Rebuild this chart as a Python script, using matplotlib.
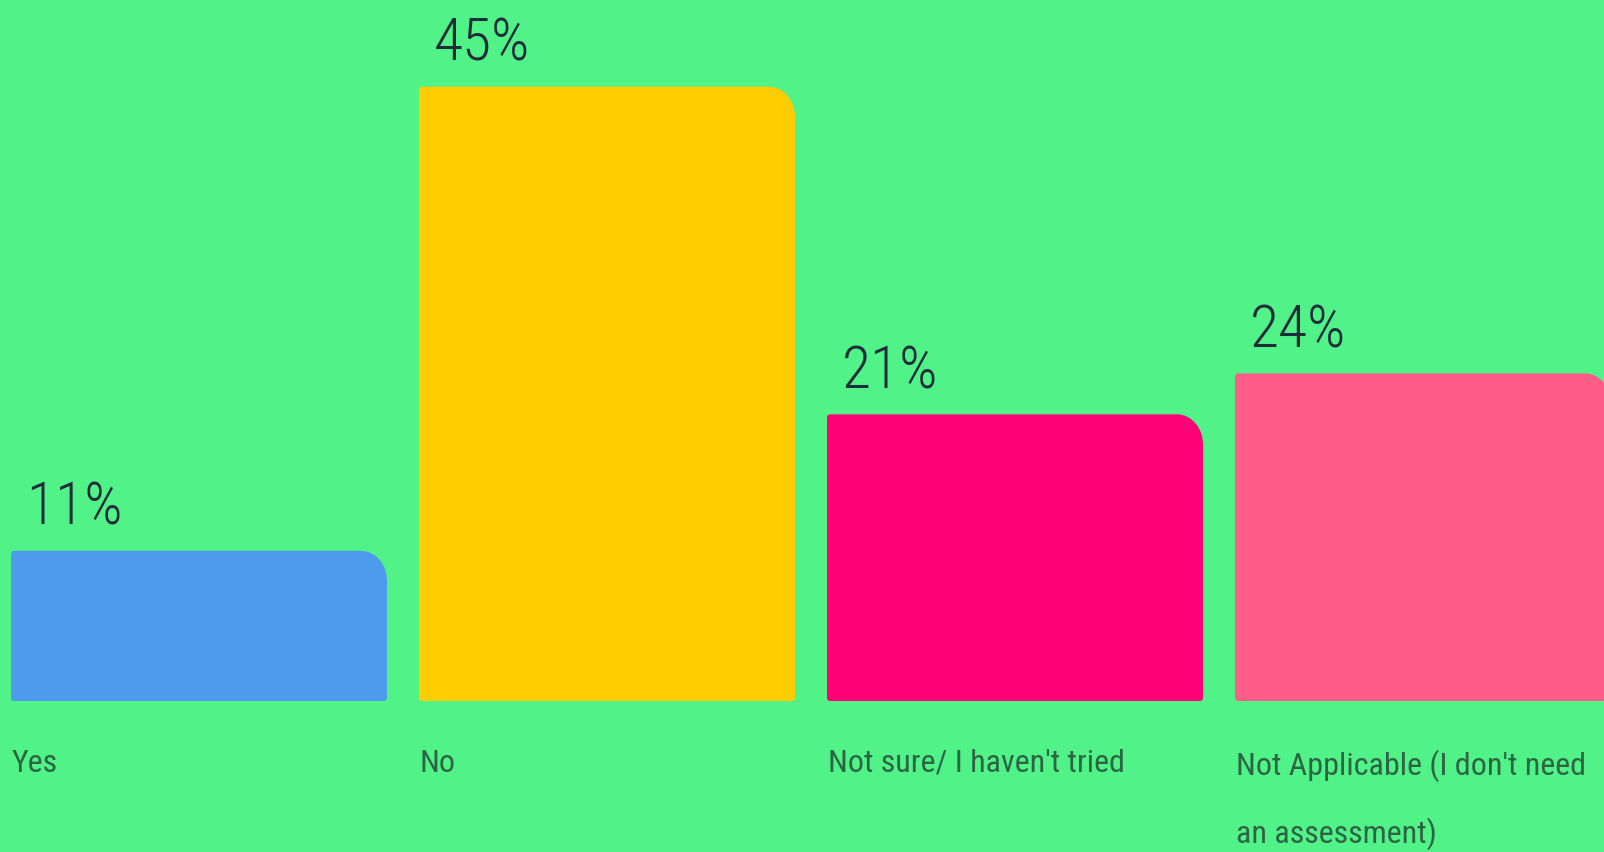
import matplotlib
matplotlib.use("Agg")
import matplotlib.pyplot as plt
from matplotlib.path import Path
from matplotlib.patches import PathPatch
from matplotlib import font_manager

categories = ["Yes", "No", "Not sure/ I haven't tried", "Not Applicable (I don't need\nan assessment)"]
values = [11, 45, 21, 24]
value_labels = ["11%", "45%", "21%", "24%"]
bar_colors = ["#4e9aef", "#ffcc00", "#ff0076", "#ff5c8a"]

BG = "#51f287"
TXT_VAL = "#1e2d3a"
TXT_CAT = "#2b6543"

# pick the narrowest installed face
names = {f.name for f in font_manager.fontManager.ttflist}
FONT = [n for n in ["Roboto Condensed", "DejaVu Sans Condensed", "Liberation Sans Narrow"] if n in names]
FONT += ["Liberation Sans", "DejaVu Sans"]

W, H, DPI = 16.04, 8.53, 100
fig = plt.figure(figsize=(W, H), dpi=DPI, facecolor=BG)
ax = fig.add_axes([0, 0, 1, 1])
ax.set_facecolor(BG)

# 408 px between bar starts, 13.65 px per percent, baseline 151 px above bottom
px_x = 408.0
px_y = 13.65
ax.set_xlim(-199 / px_x, (1604 - 199) / px_x)
ax.set_ylim(-151 / px_y, (853 - 151) / px_y)
ax.axis("off")

width = 376 / px_x
bars = ax.bar(range(len(values)), values, width=width, color=bar_colors)

def rounded_path(x0, y0, x1, y1, bx, by, sx, sy):
    k = 0.5523
    verts = [
        (x0 + sx, y0),
        (x1 - sx, y0),
        (x1 - sx + k * sx, y0), (x1, y0 + sy - k * sy), (x1, y0 + sy),
        (x1, y1 - by),
        (x1, y1 - by + k * by), (x1 - bx + k * bx, y1), (x1 - bx, y1),
        (x0 + sx, y1),
        (x0 + sx - k * sx, y1), (x0, y1 - sy + k * sy), (x0, y1 - sy),
        (x0, y0 + sy),
        (x0, y0 + sy - k * sy), (x0 + sx - k * sx, y0), (x0 + sx, y0),
        (x0 + sx, y0),
    ]
    codes = [Path.MOVETO, Path.LINETO] + [Path.CURVE4] * 3 + [Path.LINETO] + [Path.CURVE4] * 3 \
        + [Path.LINETO] + [Path.CURVE4] * 3 + [Path.LINETO] + [Path.CURVE4] * 3 + [Path.CLOSEPOLY]
    return Path(verts, codes)

# swap the plain rectangles for ones with a rounded top-right corner
for rect in bars.patches:
    x0, y0 = rect.get_x(), rect.get_y()
    x1, y1 = x0 + rect.get_width(), y0 + rect.get_height()
    p = rounded_path(x0, y0, x1, y1, 26 / px_x, 30 / px_y, 3 / px_x, 3 / px_y)
    ax.add_patch(PathPatch(p, facecolor=rect.get_facecolor(), edgecolor="none"))
    rect.set_visible(False)

for i, rect in enumerate(bars.patches):
    left = rect.get_x()
    ax.annotate(value_labels[i], xy=(left, values[i]), xytext=(15, 27),
                textcoords="offset pixels", ha="left", va="baseline",
                fontsize=43, fontweight="light", color=TXT_VAL, family=FONT)
    ax.annotate(categories[i], xy=(left, 0), xytext=(1, -47),
                textcoords="offset pixels", ha="left", va="top",
                fontsize=23, color=TXT_CAT, family=FONT, linespacing=2.4)

fig.savefig("out.png", dpi=DPI, facecolor=BG)
